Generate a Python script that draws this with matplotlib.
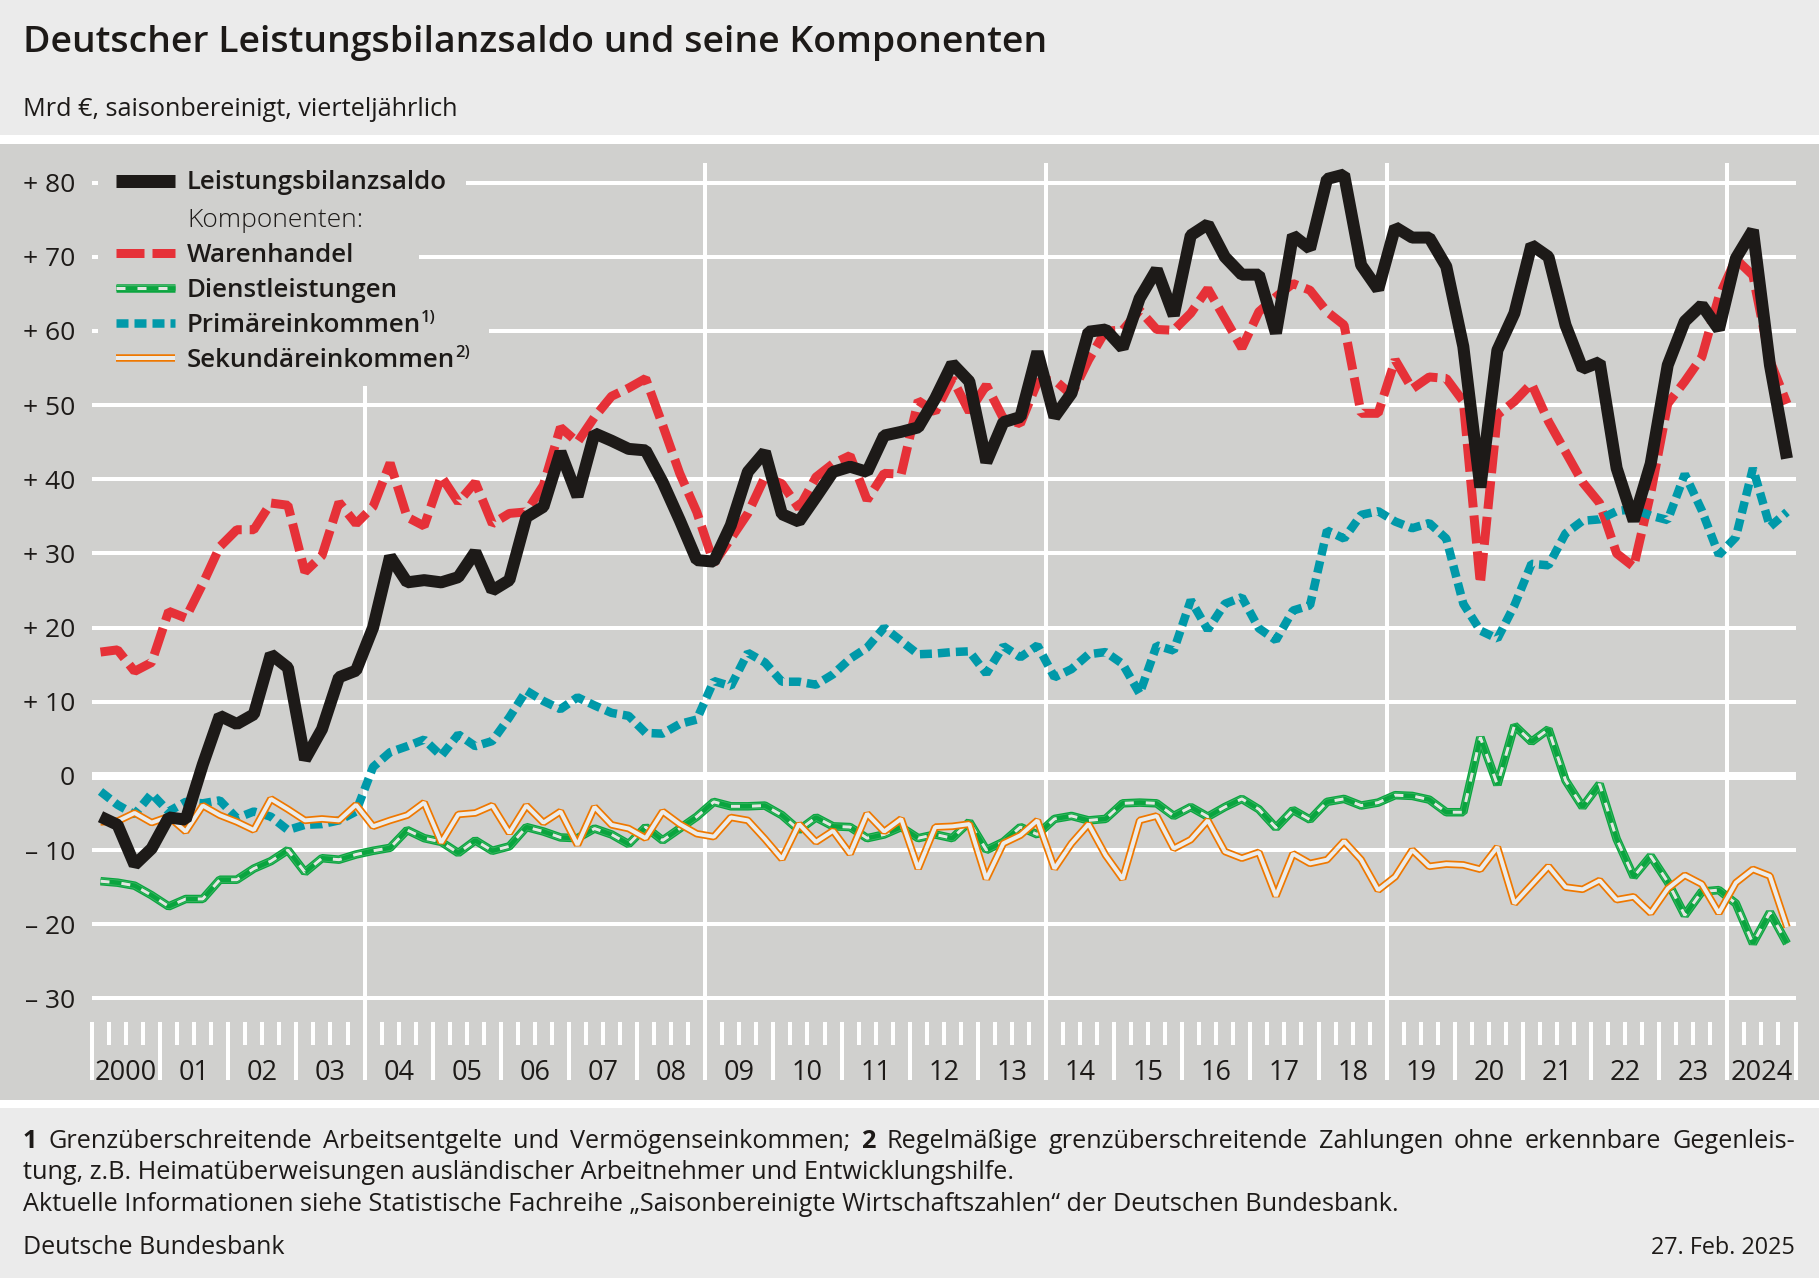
import matplotlib
matplotlib.use("Agg")
import matplotlib.pyplot as plt
import numpy as np
from matplotlib.patches import Rectangle
from matplotlib.lines import Line2D
from matplotlib.transforms import Affine2D

# Werte (Mrd Euro, vierteljaehrlich 2000-2024)
saldo = [-5.5, -6.6, -12.0, -9.8, -5.6, -5.9, 1.5, 8.1, 7.0, 8.3, 16.4, 14.6, 2.2, 6.3, 13.3, 14.2,
         20.0, 29.6, 26.1, 26.4, 26.1, 26.8, 30.2, 25.0, 26.4, 34.9, 36.3, 43.7, 37.7, 46.2, 45.2, 44.1,
         43.9, 39.6, 34.5, 29.1, 28.9, 33.8, 41.0, 43.7, 35.3, 34.3, 37.6, 41.0, 41.7, 41.0, 45.9, 46.4,
         47.0, 50.9, 55.6, 53.2, 42.3, 47.7, 48.4, 57.2, 48.4, 51.6, 59.9, 60.2, 57.7, 64.4, 68.3, 62.1,
         72.9, 74.4, 70.0, 67.6, 67.6, 59.7, 72.9, 71.1, 80.5, 81.1, 68.9, 65.6, 74.0, 72.6, 72.6, 68.7,
         57.9, 38.9, 57.4, 62.4, 71.6, 70.0, 60.8, 54.9, 55.8, 41.5, 34.4, 42.1, 55.4, 61.3, 63.5, 60.2,
         69.8, 73.6, 55.4, 42.8]
waren = [16.7, 17.0, 14.1, 15.3, 22.2, 21.3, 25.9, 30.9, 33.2, 33.2, 36.8, 36.5, 27.5, 29.7, 36.9, 34.0,
         36.3, 42.2, 34.9, 33.7, 40.4, 36.9, 39.6, 34.0, 35.4, 35.6, 39.2, 47.0, 45.0, 48.4, 51.2, 52.3,
         53.6, 47.3, 40.8, 35.6, 28.7, 32.0, 35.4, 40.3, 39.4, 36.1, 40.3, 42.1, 43.2, 37.2, 40.8, 40.7,
         50.6, 49.1, 53.6, 49.1, 52.7, 48.2, 47.5, 53.1, 53.4, 51.4, 56.1, 60.0, 60.1, 62.8, 60.2, 60.1,
         62.4, 65.7, 61.7, 57.7, 62.6, 64.6, 66.4, 65.5, 62.6, 60.8, 48.9, 48.9, 56.1, 52.2, 53.8, 53.6,
         50.5, 25.9, 48.7, 50.5, 52.9, 47.8, 43.7, 39.6, 36.8, 30.0, 28.2, 38.1, 50.2, 53.2, 56.5, 64.6,
         69.7, 67.5, 56.0, 50.2]
dienste = [-14.2, -14.4, -14.8, -16.1, -17.6, -16.6, -16.6, -14.0, -14.0, -12.5, -11.5, -10.0, -13.0, -11.1, -11.3, -10.6,
           -10.1, -9.7, -7.3, -8.4, -8.9, -10.4, -8.7, -10.1, -9.5, -6.9, -7.5, -8.3, -8.4, -7.1, -7.9, -9.2,
           -6.9, -8.7, -7.1, -5.5, -3.5, -4.1, -4.1, -4.0, -5.3, -7.3, -5.6, -6.8, -6.9, -8.4, -7.9, -6.9,
           -8.4, -7.9, -8.4, -6.2, -10.0, -8.9, -6.9, -7.9, -5.8, -5.4, -6.0, -5.8, -3.7, -3.6, -3.7, -5.4,
           -4.2, -5.5, -4.2, -3.1, -4.5, -7.0, -4.6, -5.9, -3.5, -3.1, -4.0, -3.6, -2.6, -2.7, -3.2, -4.9,
           -4.9, 5.2, -1.2, 6.8, 4.6, 6.3, -0.6, -4.2, -1.1, -8.5, -13.6, -10.8, -14.3, -18.8, -15.6, -15.4,
           -17.2, -22.6, -18.4, -22.6]
primaer = [-2.1, -3.9, -5.2, -2.4, -4.8, -3.5, -3.7, -3.3, -5.7, -4.8, -5.5, -7.3, -6.6, -6.5, -6.0, -4.8,
           1.2, 3.2, 4.0, 4.9, 2.7, 5.6, 4.0, 4.7, 7.9, 11.5, 10.1, 9.0, 10.6, 9.5, 8.5, 8.1,
           5.8, 5.7, 7.0, 7.6, 12.8, 12.1, 16.6, 15.3, 12.7, 12.7, 12.3, 13.7, 15.8, 17.3, 20.0, 18.2,
           16.4, 16.5, 16.7, 16.8, 13.8, 17.5, 16.0, 17.6, 13.3, 14.4, 16.4, 16.7, 15.1, 11.1, 17.6, 16.9,
           23.7, 19.7, 23.2, 24.1, 19.9, 18.3, 22.3, 23.0, 33.1, 32.0, 35.2, 35.7, 34.3, 33.4, 34.1, 32.0,
           23.2, 19.6, 18.5, 23.0, 28.6, 28.4, 32.7, 34.4, 34.6, 35.7, 36.0, 35.1, 34.5, 40.7, 35.8, 29.8,
           32.2, 41.5, 33.6, 35.6]
sekundaer = [-6.2, -6.1, -5.0, -6.3, -5.5, -7.5, -4.0, -5.3, -6.2, -7.3, -3.1, -4.5, -6.0, -5.8, -6.0, -3.9,
             -6.8, -6.0, -5.3, -3.6, -9.0, -5.2, -5.0, -4.0, -7.7, -4.0, -6.3, -4.8, -9.3, -4.2, -6.6, -7.1,
             -8.4, -4.8, -6.5, -7.8, -8.2, -5.6, -6.0, -8.5, -11.2, -6.5, -8.9, -7.4, -10.5, -5.1, -7.5, -5.8,
             -12.5, -6.9, -6.8, -6.5, -13.9, -9.1, -8.0, -6.0, -12.5, -9.1, -6.5, -10.7, -13.9, -6.0, -5.4, -9.8,
             -8.6, -6.0, -10.2, -11.1, -10.3, -16.2, -10.5, -11.8, -11.3, -8.8, -11.3, -15.4, -13.6, -10.0, -12.2, -11.9,
             -12.0, -12.6, -9.6, -17.2, -14.7, -12.2, -15.0, -15.3, -14.1, -16.7, -16.3, -18.5, -15.2, -13.4, -14.6, -18.5,
             -14.4, -12.6, -13.5, -20.4]
jahre = list(range(2000, 2026))
jahr_labels = ["2000", "01", "02", "03", "04", "05", "06", "07", "08", "09", "10", "11", "12", "13", "14", "15",
               "16", "17", "18", "19", "20", "21", "22", "23", "2024"]
y_werte = [-30, -20, -10, 0, 10, 20, 30, 40, 50, 60, 70, 80]
y_labels = ["– 30", "– 20", "– 10", "0", "+ 10", "+ 20", "+ 30", "+ 40", "+ 50", "+ 60", "+ 70", "+ 80"]

W, H = 1819, 1278
GRAU = "#d0d0ce"
HELL = "#ebebeb"
TEXT = "#1d1a18"
ROT = "#e63138"
GRUEN = "#0aa53f"
TUERKIS = "#0099a9"
ORANGE = "#ef7800"
FS = 18.2


def px(v):
    return v * 0.72


plt.rcParams["font.family"] = ["Open Sans", "DejaVu Sans"]
plt.rcParams["lines.scale_dashes"] = False
plt.rcParams["lines.dash_capstyle"] = "butt"
plt.rcParams["lines.solid_capstyle"] = "butt"
plt.rcParams["lines.solid_joinstyle"] = "bevel"
plt.rcParams["lines.dash_joinstyle"] = "bevel"

fig = plt.figure(figsize=(W / 100, H / 100), dpi=100, facecolor="white")
pix = Affine2D().scale(1, -1).translate(0, H)  # Pixel von oben links


def box(x0, y0, x1, y1, farbe):
    fig.add_artist(Rectangle((x0, y0), x1 - x0, y1 - y0, fc=farbe, ec="none", transform=pix, zorder=-1))


def schrift(x, y, s, **kw):
    kw.setdefault("fontsize", FS)
    kw.setdefault("color", TEXT)
    t = fig.text(x, y, s, transform=pix, va="baseline", zorder=3, **kw)
    return t


box(0, 0, W, 135, HELL)
box(0, 144, W, 1100, GRAU)
box(0, 1108, W, H, HELL)


def achse(x0, y0, x1, y1):
    a = fig.add_axes([x0 / W, 1 - y1 / H, (x1 - x0) / W, (y1 - y0) / H])
    a.patch.set_alpha(0)
    a.set_frame_on(False)
    return a


X0, X1 = 92, 1795.5
Y_OBEN, Y_UNTEN = 163, 1021.7
ax = achse(X0, Y_OBEN, X1, Y_UNTEN)
ax.set_zorder(1)
ax.set_xlim(2000, 2025)
ax.set_ylim(80 - (Y_UNTEN - 182.7) / 7.415, 80 - (Y_OBEN - 182.7) / 7.415)
ax.set_yticks(y_werte)
ax.set_yticklabels(y_labels, fontsize=19, color=TEXT)
ax.set_xticks([2004, 2009, 2014, 2019, 2024])
ax.set_xticklabels([])
ax.tick_params(length=0, pad=px(17))
ax.grid(True, color="white", lw=px(4))
ax.set_axisbelow(True)
for wert, g in zip(y_werte, ax.get_ygridlines()):
    if wert == 0:
        g.set_linewidth(px(8))

# Legendenbereich ohne Gitter
for x0, y0, x1, y1 in [(98, 160, 466, 198), (98, 250, 419, 264), (98, 325, 489, 338), (355, 160, 375, 386)]:
    ax.add_patch(Rectangle((x0, y0), x1 - x0, y1 - y0, fc=GRAU, ec="none", transform=pix, zorder=1, clip_on=False))

x = np.array([j + (q + 0.5) / 4 for j in jahre[:-1] for q in range(4)])


def rot_stil():
    return dict(color=ROT, lw=px(9), dashes=(px(28), px(8)))


def tuerkis_stil():
    return dict(color=TUERKIS, lw=px(8.5), dashes=(px(12), px(6)))


def gruen_stile():
    return [dict(color=GRUEN, lw=px(8.5)), dict(color="#3fb566", lw=px(6)), dict(color=GRUEN, lw=px(4.5)),
            dict(color="#e4e6e2", lw=px(3), dashes=(px(9), px(12)))]


def orange_stile():
    return [dict(color=ORANGE, lw=px(7.5)), dict(color="#ececea", lw=px(4))]


ax.plot(x, waren, zorder=3, **rot_stil())
ax.plot(x, primaer, zorder=3.1, **tuerkis_stil())
for s in gruen_stile():
    ax.plot(x, dienste, zorder=3.2, **s)
for s in orange_stile():
    ax.plot(x, sekundaer, zorder=3.3, **s)
ax.plot(x, saldo, zorder=3.4, color=TEXT, lw=px(12))

# Zeitachse als eigener Streifen
st = achse(X0, Y_UNTEN, X1, 1080)
st.set_zorder(1)
st.set_xlim(2000, 2025)
st.set_ylim(0, 1)
st.set_yticks([])
st.set_xticks(jahre)
st.set_xticks([j + q / 4 for j in jahre[:-1] for q in (1, 2, 3)], minor=True)
st.set_xticklabels([])
st.tick_params(axis="x", which="major", top=True, bottom=False, direction="in", length=px(58.3), width=px(4), color="white")
st.tick_params(axis="x", which="minor", top=True, bottom=False, direction="in", length=px(23.5), width=px(4), color="white")
for j, lab in zip(jahre, jahr_labels):
    st.text(j + 0.5, 0, lab, ha="center", va="baseline", fontsize=19.5, color=TEXT, zorder=4)

# Legende
LX0, LX1 = 116, 175


def leg_linie(y, **kw):
    fig.add_artist(Line2D([LX0, LX1], [y, y], transform=pix, zorder=2, **kw))


leg_linie(181, color=TEXT, lw=px(13))
leg_linie(252.7, **rot_stil())
for s in gruen_stile():
    leg_linie(287.7, **s)
leg_linie(322.7, **tuerkis_stil())
for s in orange_stile():
    leg_linie(357.7, **s)

LEG = dict(fontsize=18.6, fontweight=600)
schrift(187, 189, "Leistungsbilanzsaldo", **LEG)
schrift(187, 227, "Komponenten:", fontsize=19, fontweight=300)
schrift(187, 262, "Warenhandel", **LEG)
schrift(187, 297, "Dienstleistungen", **LEG)
t1 = schrift(187, 332, "Primäreinkommen", **LEG)
t2 = schrift(187, 367, "Sekundäreinkommen", **LEG)

schrift(23, 52, "Deutscher Leistungsbilanzsaldo und seine Komponenten", fontsize=26.9, fontweight=600)
schrift(23, 116, "Mrd €, saisonbereinigt, vierteljährlich", fontsize=18.2)

renderer = fig.canvas.get_renderer()


def breite(t):
    return t.get_window_extent(renderer).width


schrift(187 + breite(t1), 322, "1)", fontsize=12, fontweight=600)
schrift(187 + breite(t2), 357, "2)", fontsize=12, fontweight=600)

# Fussnote: erste Zeile im Blocksatz
woerter = ("1 Grenzüberschreitende Arbeitsentgelte und Vermögenseinkommen; 2 Regelmäßige "
           "grenzüberschreitende Zahlungen ohne erkennbare Gegenleis-").split()
texte = [schrift(0, 1148, w, fontweight="bold" if w in ("1", "2") else "normal") for w in woerter]
b = [breite(t) for t in texte]
luecke = (1795 - 23 - sum(b)) / (len(b) - 1)
pos = 23
for t, w in zip(texte, b):
    t.set_x(pos)
    pos += w + luecke

schrift(23, 1179, "tung, z.B. Heimatüberweisungen ausländischer Arbeitnehmer und Entwicklungshilfe.")
schrift(23, 1211, "Aktuelle Informationen siehe Statistische Fachreihe „Saisonbereinigte Wirtschaftszahlen“ der Deutschen Bundesbank.")
schrift(23, 1254, "Deutsche Bundesbank", fontsize=18)
schrift(1795, 1254, "27. Feb. 2025", ha="right", fontsize=16.8)

fig.savefig("out.png", dpi=100)
